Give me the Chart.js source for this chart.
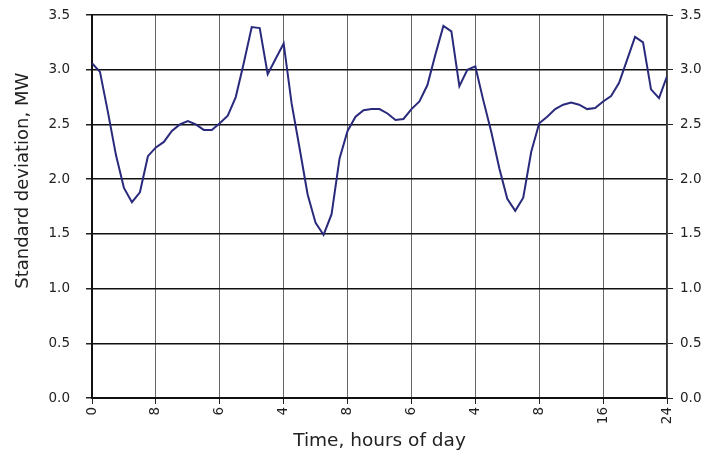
<!DOCTYPE html>
<html>
<head>
<meta charset="utf-8">
<script src="https://cdn.jsdelivr.net/npm/chart.js@4"></script>
<style>
html,body{margin:0;padding:0;background:#fff;}
#wrap{width:704px;height:454px;}
</style>
</head>
<body>
<div id="wrap"><canvas id="c" width="704" height="454"></canvas></div>
<script>
const hours = [0,1,2,3,4,5,6,7,8,9,10,11,12,13,14,15,16,17,18,19,20,21,22,23,24,25,26,27,28,29,30,31,32,33,34,35,36,37,38,39,40,41,42,43,44,45,46,47,48,49,50,51,52,53,54,55,56,57,58,59,60,61,62,63,64,65,66,67,68,69,70,71,72];
const stdDev = [3.06,2.98,2.61,2.22,1.92,1.79,1.88,2.21,2.29,2.34,2.44,2.50,2.53,2.50,2.45,2.45,2.51,2.58,2.75,3.06,3.39,3.38,2.96,3.10,3.24,2.69,2.28,1.86,1.60,1.49,1.68,2.19,2.44,2.57,2.63,2.64,2.64,2.60,2.54,2.55,2.64,2.71,2.86,3.14,3.40,3.35,2.85,3.00,3.03,2.72,2.43,2.10,1.82,1.71,1.83,2.25,2.51,2.57,2.64,2.68,2.70,2.68,2.64,2.65,2.71,2.76,2.88,3.09,3.30,3.25,2.82,2.74,2.94];
const xTickLabels = ["0","8","6","4","8","6","4","8","16","24"];
const yTicks = [0,0.5,1,1.5,2,2.5,3,3.5];

const fam = "'DejaVu Sans', Verdana, sans-serif";
const font = {family:fam, size:13.5};
const pts = hours.map((h,i)=>({x:h,y:stdDev[i]}));
const noPad = (ax)=>{ax.paddingTop=0;ax.paddingBottom=0;};

new Chart(document.getElementById('c'), {
  type:'line',
  data:{datasets:[{data:pts,borderColor:'#2a2a7c',borderWidth:2,pointRadius:0,tension:0,fill:false}]},
  options:{
    responsive:false,animation:false,
    layout:{padding:{top:15,left:0,right:0,bottom:0}},
    plugins:{legend:{display:false},tooltip:{enabled:false}},
    scales:{
      x:{type:'linear',min:0,max:72,
        afterBuildTicks:(ax)=>{ax.ticks=[0,8,16,24,32,40,48,56,64,72].map(v=>({value:v}));},
        ticks:{callback:(v)=>xTickLabels[Math.round(v/8)],minRotation:90,maxRotation:90,font:font,color:'#222',padding:3,autoSkip:false},
        grid:{color:'#666',lineWidth:1,tickLength:6,tickColor:'#222'},
        border:{color:'#111',width:2},
        title:{display:true,text:'Time, hours of day',font:{family:fam,size:18.5},color:'#222',padding:{top:0,bottom:2}},
        afterFit:(ax)=>{ax.height=56;}
      },
      y:{type:'linear',position:'left',min:0,max:3.5,
        afterBuildTicks:(ax)=>{ax.ticks=yTicks.map(v=>({value:v}));},
        ticks:{callback:(v)=>v.toFixed(1),font:font,color:'#222',padding:16},
        grid:{color:'#111',lineWidth:1.5,tickLength:6,tickColor:'#222'},
        border:{color:'#111',width:2},
        title:{display:true,text:'         Standard deviation, MW',font:{family:fam,size:18},color:'#222',padding:{top:13,bottom:4}},
        afterFit:(ax)=>{ax.width=92;noPad(ax);}
      },
      y2:{type:'linear',position:'right',min:0,max:3.5,
        afterBuildTicks:(ax)=>{ax.ticks=yTicks.map(v=>({value:v}));},
        ticks:{callback:(v)=>v.toFixed(1),font:font,color:'#222',padding:7},
        grid:{drawOnChartArea:false,tickLength:6,tickColor:'#222'},
        border:{color:'#333',width:1.5},
        afterFit:(ax)=>{ax.width=37;noPad(ax);}
      }
    }
  }
});
</script>
</body>
</html>
